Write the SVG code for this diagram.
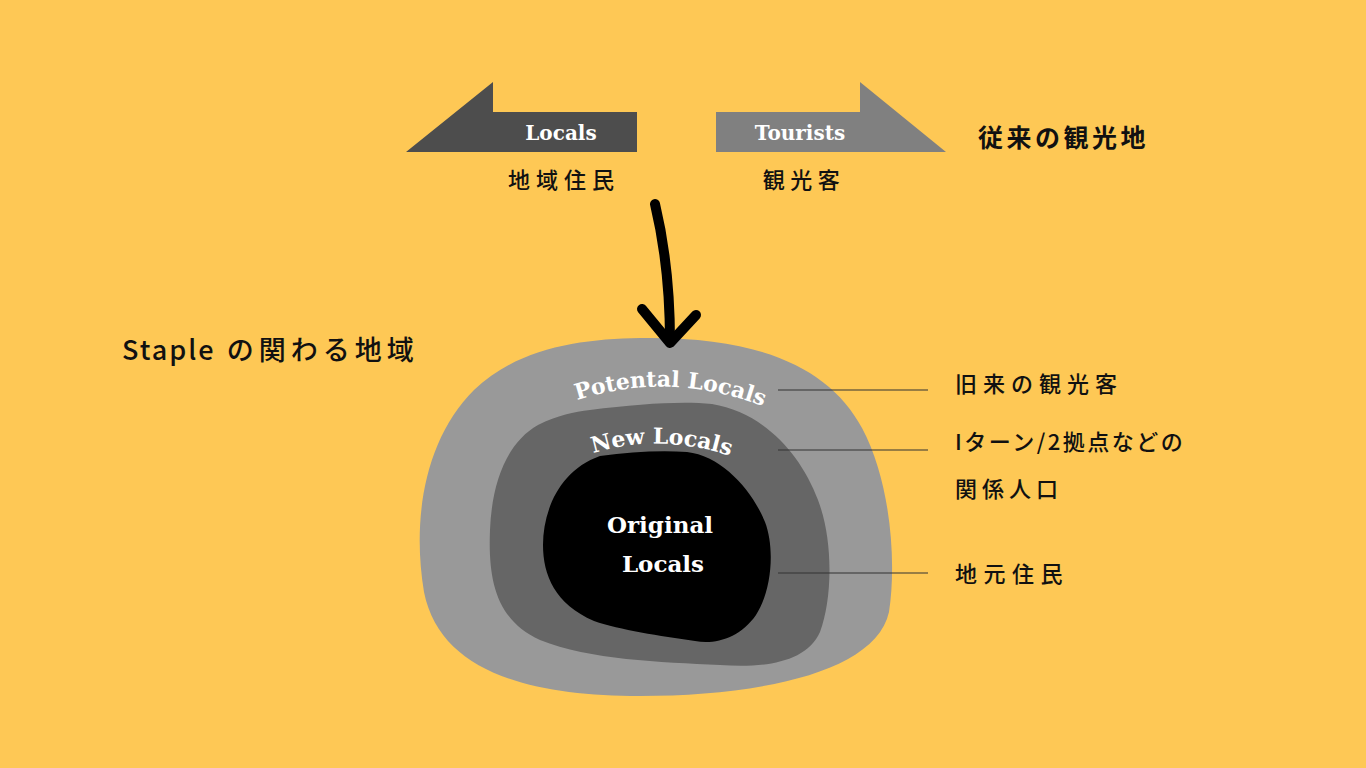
<svg xmlns="http://www.w3.org/2000/svg" width="1366" height="768" viewBox="0 0 1366 768">
<defs>
<style>
.serif{font-family:"DejaVu Serif","Liberation Serif",serif;font-weight:bold;fill:#fff}
.jp{font-family:"Noto Sans CJK JP","Noto Sans",sans-serif;fill:#111}
.lead{stroke:#333;stroke-width:1.2;fill:none}
</style>
<path id="arcP" d="M 558 407 Q 668 363 782 414"/>
<path id="arcN" d="M 581 457 Q 660 429 742 460"/>
</defs>
<rect width="1366" height="768" fill="#FEC855"/>

<g id="arrow-locals">
<polygon points="406,152 493,82 493,112 637,112 637,152" fill="#4D4D4D"/>
<text class="serif" x="561" y="140" font-size="20" text-anchor="middle">Locals</text>
<text class="jp" x="564" y="188" font-size="22" font-weight="500" letter-spacing="6" text-anchor="middle">地域住民</text>
</g>
<g id="arrow-tourists">
<polygon points="716,112 860,112 860,82 946,152 716,152" fill="#808080"/>
<text class="serif" x="800" y="140" font-size="20" text-anchor="middle">Tourists</text>
<text class="jp" x="804" y="188" font-size="22" font-weight="500" letter-spacing="5.5" text-anchor="middle">観光客</text>
</g>
<g id="title-traditional">
<text class="jp" x="978" y="147" font-size="25" font-weight="bold" letter-spacing="3.5">従来の観光地</text>
</g>
<g id="title-staple">
<text class="jp" x="122" y="360" font-size="27" font-weight="500" letter-spacing="2">Staple<tspan letter-spacing="5"> の関わる地域</tspan></text>
</g>

<g id="region-outer">
<path d="M 640 338 C 760 336 830 368 862 428 C 890 480 897 560 889 612 C 876 672 760 696 640 696 C 530 696 440 672 424 592 C 412 520 424 440 474 390 C 518 348 580 339 640 338 Z" fill="#999999"/>
<text class="serif" font-size="22"><textPath href="#arcP" startOffset="50%" text-anchor="middle">Potental Locals</textPath></text>
</g>
<g id="region-middle">
<path d="M 590 410 C 640 404 680 401 712 404 C 762 412 800 452 818 500 C 834 542 832 600 820 632 C 806 664 760 668 720 665 C 660 662 590 660 540 640 C 496 620 488 580 490 530 C 492 480 508 442 538 425 C 558 415 574 412 590 410 Z" fill="#666666"/>
<text class="serif" font-size="22"><textPath href="#arcN" startOffset="50%" text-anchor="middle">New Locals</textPath></text>
</g>
<g id="region-inner">
<path d="M 600 456 C 630 452 660 450 687 452 C 722 456 752 490 765 522 C 775 548 772 590 756 615 C 740 638 715 645 695 641 C 660 636 620 630 594 621 C 555 604 543 575 543 545 C 543 510 560 470 600 456 Z" fill="#000"/>
<text class="serif" x="660" y="533" font-size="23" text-anchor="middle">Original</text>
<text class="serif" x="663" y="572" font-size="23" text-anchor="middle">Locals</text>
</g>

<g id="labels">
<text class="jp" x="955" y="392" font-size="22" font-weight="500" letter-spacing="6">旧来の観光客</text>
<text class="jp" x="955" y="450" font-size="22" font-weight="500" letter-spacing="2.5">Iターン/2拠点などの</text>
<text class="jp" x="955" y="497" font-size="22" font-weight="500" letter-spacing="5">関係人口</text>
<text class="jp" x="955" y="582" font-size="22" font-weight="500" letter-spacing="6.5">地元住民</text>
</g>

<g id="connectors">
<line class="lead" x1="778" y1="390" x2="928" y2="390"/>
<line class="lead" x1="778" y1="450" x2="928" y2="450"/>
<line class="lead" x1="778" y1="573" x2="928" y2="573"/>
<path d="M 655 204 C 666 250 670 300 670 342" fill="none" stroke="#000" stroke-width="10" stroke-linecap="round"/>
<path d="M 642 309 L 670 343 L 696 315" fill="none" stroke="#000" stroke-width="10" stroke-linecap="round" stroke-linejoin="round"/>
</g>
</svg>
